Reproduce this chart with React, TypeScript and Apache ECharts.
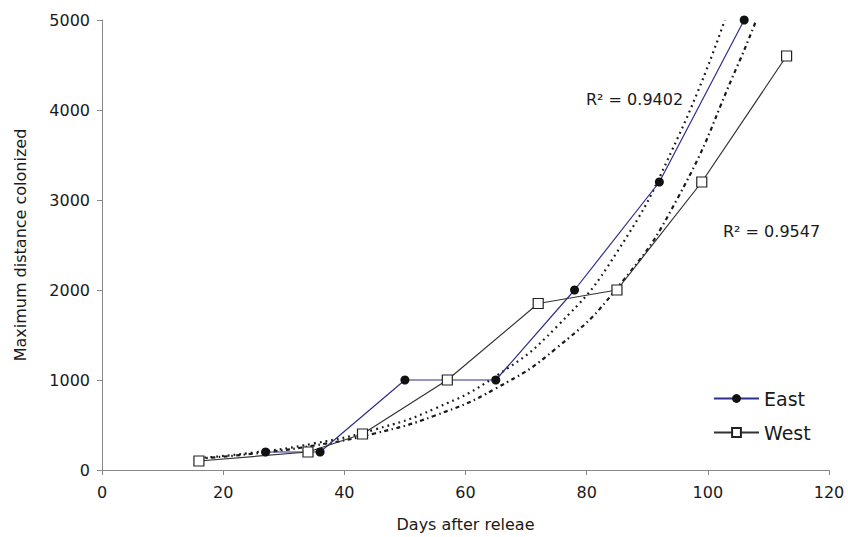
import React, { useEffect, useRef } from "react";
import * as echarts from "echarts";

const eastDays = [27, 36, 50, 65, 78, 92, 106];
const eastDist = [200, 200, 1000, 1000, 2000, 3200, 5000];
const westDays = [16, 34, 43, 57, 72, 85, 99, 113];
const westDist = [100, 200, 400, 1000, 1850, 2000, 3200, 4600];

// exponential trendlines
const eastTrendDays = [16, 25, 35, 45, 55, 65, 75, 85, 95, 102.8];
const eastTrendDist = [132, 193, 295, 449, 684, 1042, 1588, 2420, 3686, 5000];
const westTrendDays = [16, 25, 35, 45, 55, 65, 75, 85, 95, 105, 108];
const westTrendDist = [127, 182, 272, 406, 606, 906, 1353, 2020, 3018, 4508, 5000];

const r2Labels = ["R\u00B2 = 0.9402", "R\u00B2 = 0.9547"];
const seriesNames = ["East", "West"];
const xAxisTitle = "Days after releae";
const yAxisTitle = "Maximum distance colonized";

const FONT = "DejaVu Sans, Verdana, sans-serif";
const TXT = "#1a1a1a";

const pairs = (xs: number[], ys: number[]) => xs.map((x, i) => [x, ys[i]]);

export default function App() {
  const ref = useRef<HTMLDivElement>(null);
  useEffect(() => {
    if (!ref.current) return;
    const chart = echarts.init(ref.current, null, { renderer: "svg" });
    chart.setOption({
      animation: false,
      backgroundColor: "#ffffff",
      textStyle: { fontFamily: FONT },
      grid: { left: 102, right: 19, top: 20, bottom: 66 },
      legend: {
        data: seriesNames,
        orient: "vertical",
        left: 713,
        top: 389,
        padding: 0,
        itemWidth: 45,
        itemHeight: 11,
        itemGap: 15,
        textStyle: { fontSize: 19, color: TXT, fontFamily: FONT },
      },
      xAxis: {
        type: "value",
        min: 0,
        max: 120,
        interval: 20,
        name: xAxisTitle,
        nameLocation: "middle",
        nameGap: 46,
        nameTextStyle: { fontSize: 16, color: TXT, fontFamily: FONT },
        axisLine: { show: true, lineStyle: { color: "#888", width: 1 } },
        axisTick: { show: true, length: 5, lineStyle: { color: "#888" } },
        axisLabel: { fontSize: 16, color: TXT, margin: 14, fontFamily: FONT },
        splitLine: { show: false },
      },
      yAxis: {
        type: "value",
        min: 0,
        max: 5000,
        interval: 1000,
        name: yAxisTitle,
        nameLocation: "middle",
        nameGap: 74,
        nameRotate: 90,
        nameTextStyle: { fontSize: 16, color: TXT, fontFamily: FONT },
        axisLine: { show: true, lineStyle: { color: "#888", width: 1 } },
        axisTick: { show: true, length: 5, lineStyle: { color: "#888" } },
        axisLabel: {
          fontSize: 16,
          color: TXT,
          margin: 12,
          fontFamily: FONT,
          formatter: (v: number) => String(v),
        },
        splitLine: { show: false },
      },
      series: [
        {
          name: "East trend",
          type: "line",
          data: pairs(eastTrendDays, eastTrendDist),
          smooth: true,
          showSymbol: false,
          silent: true,
          lineStyle: { color: "#1a1a1a", width: 2.2, type: [1.8, 4] },
          z: 1,
        },
        {
          name: "West trend",
          type: "line",
          data: pairs(westTrendDays, westTrendDist),
          smooth: true,
          showSymbol: false,
          silent: true,
          lineStyle: { color: "#1a1a1a", width: 2.2, type: [4, 3.5, 1.5, 3.5] },
          z: 1,
        },
        {
          name: seriesNames[0],
          type: "line",
          data: pairs(eastDays, eastDist),
          symbol: "circle",
          symbolSize: 9,
          itemStyle: { color: "#111" },
          lineStyle: { color: "#2e2e8c", width: 1.2 },
          z: 3,
        },
        {
          name: seriesNames[1],
          type: "line",
          data: pairs(westDays, westDist),
          symbol: "rect",
          symbolSize: 10,
          itemStyle: { color: "#ffffff", borderColor: "#222", borderWidth: 1.2 },
          lineStyle: { color: "#333", width: 1.2 },
          z: 3,
        },
      ],
      graphic: [
        {
          type: "text",
          left: 586,
          top: 91,
          style: { text: r2Labels[0], fontSize: 16, fill: TXT, fontFamily: FONT },
        },
        {
          type: "text",
          left: 723,
          top: 223,
          style: { text: r2Labels[1], fontSize: 16, fill: TXT, fontFamily: FONT },
        },
      ],
    });
    return () => chart.dispose();
  }, []);
  return (
    <div
      ref={ref}
      style={{ position: "fixed", left: 0, top: 0, width: 848, height: 537 }}
    />
  );
}
